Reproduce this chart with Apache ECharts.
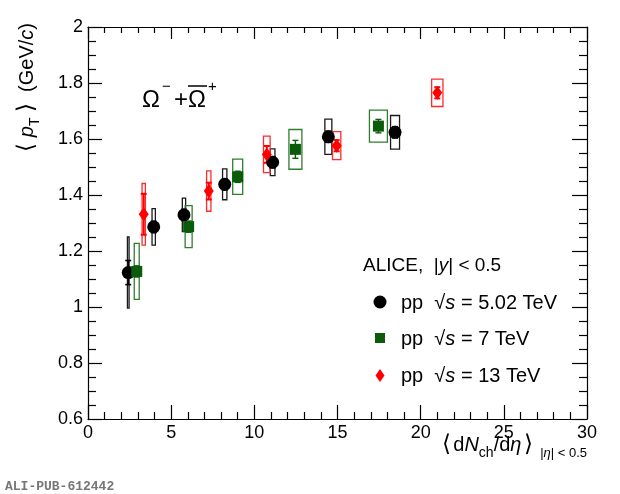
<!DOCTYPE html>
<html>
<head>
<meta charset="utf-8">
<script src="https://cdn.jsdelivr.net/npm/echarts@6/dist/echarts.min.js"></script>
<style>
html,body{margin:0;padding:0;background:#fff;}
#chart{width:620px;height:494px;}
</style>
</head>
<body>
<div id="chart"></div>
<script>
// pp 5.02 TeV
var xBlack    = [2.42, 3.95, 5.77, 8.22, 11.1, 14.45, 18.46];
var yBlack    = [1.123, 1.286, 1.329, 1.438, 1.517, 1.608, 1.624];
var sysBlack  = [0.127, 0.065, 0.06, 0.055, 0.048, 0.063, 0.06];
var statBlack = [0.043, 0.02, 0.02, 0.02, 0.02, 0.02, 0.02];
var xErrBlack = [0.05, 0.1, 0.1, 0.13, 0.14, 0.21, 0.27];
// pp 7 TeV
var xGreen    = [2.93, 6.05, 9.0, 12.47, 17.46];
var yGreen    = [1.127, 1.287, 1.465, 1.563, 1.646];
var sysGreen  = [0.1, 0.075, 0.063, 0.071, 0.057];
var statGreen = [0.02, 0.02, 0.02, 0.032, 0.024];
var xErrGreen = [0.15, 0.21, 0.30, 0.39, 0.54];
// pp 13 TeV
var xRed      = [3.35, 7.26, 10.75, 14.95, 21.0];
var yRed      = [1.331, 1.414, 1.545, 1.576, 1.765];
var sysRed    = [0.11, 0.072, 0.065, 0.05, 0.049];
var statRed   = [0.073, 0.03, 0.03, 0.02, 0.02];
var xErrRed   = [0.1, 0.13, 0.2, 0.25, 0.34];

var xTicks = [0, 5, 10, 15, 20, 25, 30];
var yTicks = [0.6, 0.8, 1, 1.2, 1.4, 1.6, 1.8, 2];

var FONT = 'Liberation Sans';

function zip(xs, ys, a, b) {
  return xs.map(function (x, i) { return [x, ys[i], a[i], b ? b[i] : 0]; });
}

function boxRender(color) {
  return function (params, api) {
    var x = api.value(0), y = api.value(1), dx = api.value(2), dy = api.value(3);
    var p1 = api.coord([x - dx, y + dy]);
    var p2 = api.coord([x + dx, y - dy]);
    return {
      type: 'rect',
      shape: { x: p1[0], y: p1[1], width: Math.max(p2[0] - p1[0], 1.5), height: p2[1] - p1[1] },
      style: { fill: 'none', stroke: color, lineWidth: 1.3 }
    };
  };
}

function statRender(color, lw) {
  return function (params, api) {
    var x = api.value(0), y = api.value(1), e = api.value(2);
    var top = api.coord([x, y + e]);
    var bot = api.coord([x, y - e]);
    var st = { stroke: color, lineWidth: lw };
    return {
      type: 'group',
      children: [
        { type: 'line', shape: { x1: top[0], y1: top[1], x2: bot[0], y2: bot[1] }, style: st },
        { type: 'line', shape: { x1: top[0] - 3, y1: top[1], x2: top[0] + 3, y2: top[1] }, style: st },
        { type: 'line', shape: { x1: bot[0] - 3, y1: bot[1], x2: bot[0] + 3, y2: bot[1] }, style: st }
      ]
    };
  };
}

function axisBase(extra) {
  var a = {
    type: 'value',
    axisLine: { show: true, onZero: false, lineStyle: { color: '#000', width: 1.2 } },
    axisTick: { show: true, inside: true, length: 14, lineStyle: { color: '#000', width: 1.2 } },
    minorTick: { show: true, length: 7, lineStyle: { color: '#000', width: 1.2 } },
    splitLine: { show: false },
    axisLabel: { show: true, color: '#000', fontFamily: FONT, fontSize: 18 }
  };
  for (var k in extra) a[k] = extra[k];
  return a;
}

function txt(x, y, s, size, extra) {
  var st = { text: s, align: 'left', verticalAlign: 'middle', fontFamily: FONT, fontSize: size, fill: '#000' };
  for (var k in extra) st[k] = extra[k];
  return { type: 'text', x: x, y: y, style: st };
}

var chart = echarts.init(document.getElementById('chart'));

var option = {
  animation: false,
  backgroundColor: '#fff',
  grid: { left: 88, right: 33, top: 27, bottom: 75 },
  xAxis: [
    axisBase({ position: 'bottom', min: xTicks[0], max: xTicks[xTicks.length - 1], interval: 5,
      minorTick: { show: true, splitNumber: 5, length: 7, lineStyle: { color: '#000', width: 1.2 } },
      axisLabel: { color: '#000', fontFamily: FONT, fontSize: 18, margin: 5 } }),
    axisBase({ position: 'top', min: xTicks[0], max: xTicks[xTicks.length - 1], interval: 5,
      axisTick: { show: true, inside: true, length: 12, lineStyle: { color: '#000', width: 1.2 } },
      minorTick: { show: true, splitNumber: 5, length: 6, lineStyle: { color: '#000', width: 1.2 } },
      axisLabel: { show: false } })
  ],
  yAxis: [
    axisBase({ position: 'left', min: yTicks[0], max: yTicks[yTicks.length - 1], interval: 0.2,
      minorTick: { show: true, splitNumber: 4, length: 8, lineStyle: { color: '#000', width: 1.2 } },
      axisLabel: { color: '#000', fontFamily: FONT, fontSize: 18, margin: 5 } }),
    axisBase({ position: 'right', min: yTicks[0], max: yTicks[yTicks.length - 1], interval: 0.2,
      axisTick: { show: true, inside: true, length: 15, lineStyle: { color: '#000', width: 1.2 } },
      minorTick: { show: true, splitNumber: 4, length: 8, lineStyle: { color: '#000', width: 1.2 } },
      axisLabel: { show: false } })
  ],
  series: [
    { type: 'custom', name: 'sys 5.02', renderItem: boxRender('#1a1a1a'), data: zip(xBlack, yBlack, xErrBlack, sysBlack), z: 2 },
    { type: 'custom', name: 'sys 7', renderItem: boxRender('#2f7d2f'), data: zip(xGreen, yGreen, xErrGreen, sysGreen), z: 2 },
    { type: 'custom', name: 'sys 13', renderItem: boxRender('#ff2a2a'), data: zip(xRed, yRed, xErrRed, sysRed), z: 2 },
    { type: 'custom', name: 'stat 5.02', renderItem: statRender('#000', 1.6), data: zip(xBlack, yBlack, statBlack), z: 3 },
    { type: 'custom', name: 'stat 7', renderItem: statRender('#0a5c0a', 1.4), data: zip(xGreen, yGreen, statGreen), z: 3 },
    { type: 'custom', name: 'stat 13', renderItem: statRender('#ff0000', 2), data: zip(xRed, yRed, statRed), z: 3 },
    { type: 'scatter', name: 'pp 5.02 TeV', symbol: 'circle', symbolSize: 13,
      itemStyle: { color: '#000', opacity: 1 }, data: xBlack.map(function (x, i) { return [x, yBlack[i]]; }), z: 4 },
    { type: 'scatter', name: 'pp 7 TeV', symbol: 'rect', symbolSize: 11,
      itemStyle: { color: '#0a5c0a', opacity: 1 }, data: xGreen.map(function (x, i) { return [x, yGreen[i]]; }), z: 4 },
    { type: 'scatter', name: 'pp 13 TeV', symbol: 'diamond', symbolSize: [10, 14],
      itemStyle: { color: '#ff0000', opacity: 1 }, data: xRed.map(function (x, i) { return [x, yRed[i]]; }), z: 4 }
  ],
  graphic: [
    // y axis title
    {
      type: 'text', x: 27, y: 23, rotation: Math.PI / 2,
      style: {
        text: '{b|⟨}{m| }{i|p}{s|T}{m| }{b|⟩}{m|  (GeV/}{i|c}{m|)}',
        align: 'right', verticalAlign: 'middle', fill: '#000',
        rich: {
          b: { fontFamily: FONT, fontSize: 23, lineHeight: 30, fill: '#000' },
          m: { fontFamily: FONT, fontSize: 20, lineHeight: 30, fill: '#000' },
          i: { fontFamily: FONT, fontSize: 20, lineHeight: 30, fontStyle: 'italic', fill: '#000' },
          s: { fontFamily: FONT, fontSize: 14, verticalAlign: 'bottom', fill: '#000' }
        }
      }
    },
    // x axis title
    {
      type: 'text', x: 587, y: 445,
      style: {
        text: '{b|⟨}{g| }{m|d}{i|N}{s|ch}{m|/d}{i|η}{g| }{b|⟩}{t|  |}{ti|η}{t|| < 0.5}',
        align: 'right', verticalAlign: 'middle', fill: '#000',
        rich: {
          b: { fontFamily: FONT, fontSize: 23, lineHeight: 30, fill: '#000' },
          g: { fontFamily: FONT, fontSize: 9, lineHeight: 30, fill: '#000' },
          m: { fontFamily: FONT, fontSize: 20, lineHeight: 30, fill: '#000' },
          i: { fontFamily: FONT, fontSize: 20, lineHeight: 30, fontStyle: 'italic', fill: '#000' },
          s: { fontFamily: FONT, fontSize: 14, verticalAlign: 'bottom', fill: '#000' },
          t: { fontFamily: FONT, fontSize: 13, verticalAlign: 'bottom', fill: '#000' },
          ti: { fontFamily: FONT, fontSize: 13, fontStyle: 'italic', verticalAlign: 'bottom', fill: '#000' }
        }
      }
    },
    // Omega label
    txt(142, 100, 'Ω', 24),
    txt(162, 87, '−', 15),
    txt(174, 100, '+', 24),
    txt(188, 100, 'Ω', 24),
    txt(208, 87, '+', 15),
    { type: 'line', shape: { x1: 188, y1: 86, x2: 207, y2: 86 }, style: { stroke: '#000', lineWidth: 1.5 } },
    // legend
    {
      type: 'text', x: 363, y: 266,
      style: {
        text: '{m|ALICE,  |}{i|y}{m|| < 0.5}', align: 'left', verticalAlign: 'middle',
        rich: {
          m: { fontFamily: FONT, fontSize: 19, fill: '#000' },
          i: { fontFamily: FONT, fontSize: 19, fontStyle: 'italic', fill: '#000' }
        }
      }
    },
    { type: 'circle', shape: { cx: 380, cy: 302, r: 6.5 }, style: { fill: '#000' } },
    { type: 'rect', shape: { x: 375, y: 333, width: 10, height: 10 }, style: { fill: '#0a5c0a' } },
    { type: 'polygon', shape: { points: [[380, 369], [384.5, 375.5], [380, 382], [375.5, 375.5]] }, style: { fill: '#ff0000' } },
    {
      type: 'text', x: 401, y: 303,
      style: {
        text: '{m|pp  √}{i|s}{m| = 5.02 TeV}', align: 'left', verticalAlign: 'middle',
        rich: {
          m: { fontFamily: FONT, fontSize: 20, fill: '#000' },
          i: { fontFamily: FONT, fontSize: 20, fontStyle: 'italic', fill: '#000' }
        }
      }
    },
    {
      type: 'text', x: 401, y: 339,
      style: {
        text: '{m|pp  √}{i|s}{m| = 7 TeV}', align: 'left', verticalAlign: 'middle',
        rich: {
          m: { fontFamily: FONT, fontSize: 20, fill: '#000' },
          i: { fontFamily: FONT, fontSize: 20, fontStyle: 'italic', fill: '#000' }
        }
      }
    },
    {
      type: 'text', x: 401, y: 376,
      style: {
        text: '{m|pp  √}{i|s}{m| = 13 TeV}', align: 'left', verticalAlign: 'middle',
        rich: {
          m: { fontFamily: FONT, fontSize: 20, fill: '#000' },
          i: { fontFamily: FONT, fontSize: 20, fontStyle: 'italic', fill: '#000' }
        }
      }
    },
    // watermark id
    {
      type: 'text', x: 5, y: 487,
      style: {
        text: 'ALI-PUB-612442', align: 'left', verticalAlign: 'middle',
        fontFamily: 'Liberation Mono', fontWeight: 'bold', fontSize: 13, fill: '#777'
      }
    }
  ]
};

chart.setOption(option);
</script>
</body>
</html>
